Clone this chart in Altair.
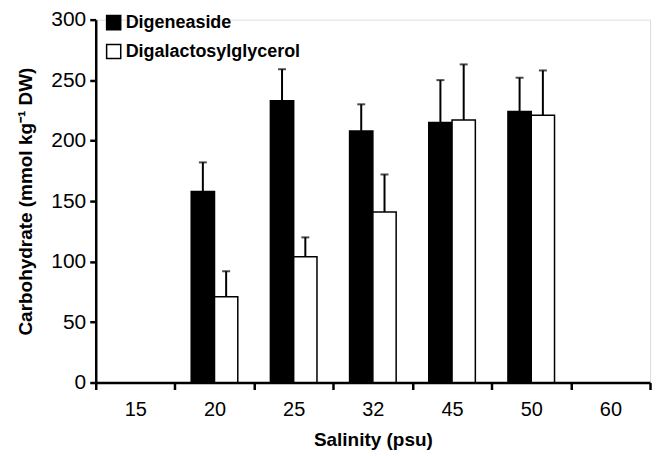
import altair as alt
import pandas as pd

salinity = ["15", "20", "25", "32", "45", "50", "60"]
series = ["Digeneaside", "Digalactosylglycerol"]
digeneaside = [None, 158, 233, 208, 215, 224, None]
digeneaside_err = [None, 24, 26, 22, 35, 28, None]
digalacto = [None, 71, 104, 141, 217, 221, None]
digalacto_err = [None, 21, 16, 31, 46, 37, None]

rows = []
for i, s in enumerate(salinity):
    for name, vals, errs in [(series[0], digeneaside, digeneaside_err),
                             (series[1], digalacto, digalacto_err)]:
        if vals[i] is not None:
            rows.append({"salinity": s, "series": name, "value": vals[i],
                         "top": vals[i] + errs[i]})
df = pd.DataFrame(rows)

FONT = "Liberation Sans"

x = alt.X("salinity:N", scale=alt.Scale(domain=salinity, paddingInner=0, paddingOuter=0),
          axis=alt.Axis(title="Salinity (psu)", labelAngle=0, tickBand="extent",
                        domainWidth=2.5, tickWidth=2.5, tickSize=7, domainColor="black",
                        tickColor="black", labelFontSize=20, labelColor="black",
                        labelPadding=10, titleFontSize=19, titleFontWeight="bold",
                        titleColor="black", titlePadding=11, labelFont=FONT, titleFont=FONT))
xoff = alt.XOffset("series:N", scale=alt.Scale(domain=series, paddingInner=0, paddingOuter=0.7))
y = alt.Y("value:Q", scale=alt.Scale(domain=[0, 300], nice=False),
          axis=alt.Axis(title="Carbohydrate (mmol kg\u207b\u00b9 DW)", values=[0, 50, 100, 150, 200, 250, 300],
                        grid=False, domainWidth=2.5, tickWidth=2.5, tickSize=6,
                        domainColor="black", tickColor="black", labelFontSize=21,
                        labelColor="black", labelPadding=4, titleFontSize=19,
                        titleFontWeight="bold", titleColor="black", titlePadding=15,
                        labelFont=FONT, titleFont=FONT))

bars = alt.Chart(df).mark_bar(stroke="black", strokeWidth=1.5).encode(
    x=x, xOffset=xoff, y=y,
    fill=alt.Fill("series:N", scale=alt.Scale(domain=series, range=["black", "white"]),
                  legend=alt.Legend(title=None, orient="none", legendX=9, legendY=-6,
                                    symbolType="square", symbolSize=200,
                                    symbolStrokeColor="black", symbolStrokeWidth=1.5,
                                    labelFontSize=18, labelFontWeight="bold",
                                    labelColor="black", labelFont=FONT, rowPadding=7,
                                    labelOffset=3, labelLimit=400))
)

rules = alt.Chart(df).mark_rule(color="black", strokeWidth=2).encode(
    x=alt.X("salinity:N"), xOffset=alt.XOffset("series:N"), y="value:Q", y2="top:Q"
)
caps = alt.Chart(df).mark_tick(color="black", thickness=2, size=8).encode(
    x=alt.X("salinity:N"), xOffset=alt.XOffset("series:N"), y=alt.Y("top:Q")
)

chart = alt.layer(bars, rules, caps).properties(
    width=556, height=364, padding={"left": 8, "right": 0, "top": 0, "bottom": 2}
).configure_view(stroke=None).configure(background="white")

chart.save("out.html", embed_options={"renderer": "svg", "actions": False})
